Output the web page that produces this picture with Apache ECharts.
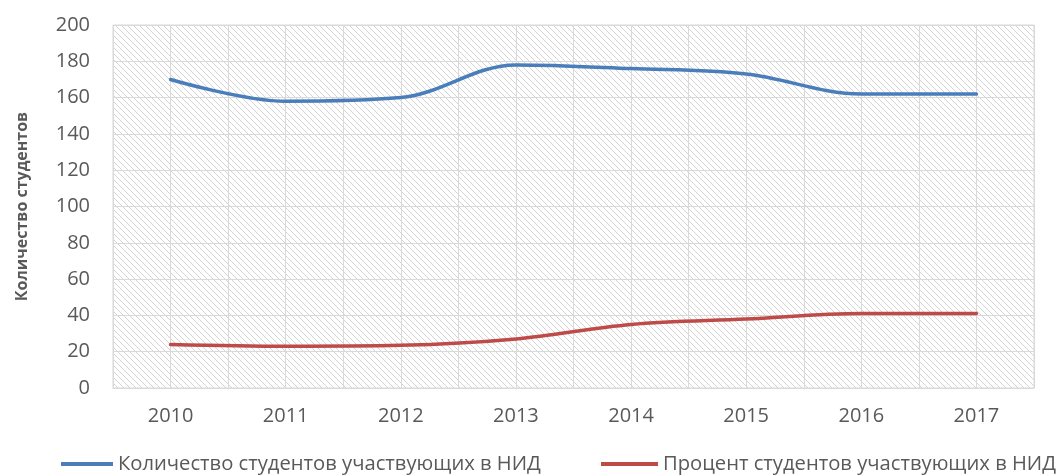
<!DOCTYPE html>
<html>
<head>
<meta charset="utf-8">
<script src="https://cdn.jsdelivr.net/npm/echarts@6/dist/echarts.min.js"></script>
<style>
  html, body { margin: 0; padding: 0; background: #fff; }
  #chart { width: 1064px; height: 475px; }
</style>
</head>
<body>
<div id="chart"></div>
<script>
var years = ['2010', '2011', '2012', '2013', '2014', '2015', '2016', '2017'];
var countStudents = [170, 158, 160, 178, 176, 173, 162, 162];
var percentStudents = [24, 23, 23.5, 27, 35, 38, 41, 41];
var seriesNames = ['Количество студентов участвующих в НИД', 'Процент студентов участвующих в НИД'];
var colors = ['#4a7ebb', '#be4b48'];

// hatch pattern for the plot background
var tile = document.createElement('canvas');
tile.width = 6;
tile.height = 6;
var ctx = tile.getContext('2d');
ctx.fillStyle = '#ffffff';
ctx.fillRect(0, 0, 6, 6);
ctx.strokeStyle = '#d4d4d4';
ctx.lineWidth = 1;
ctx.beginPath();
ctx.moveTo(-1, -1); ctx.lineTo(7, 7);
ctx.moveTo(-4, 2); ctx.lineTo(4, 10);
ctx.moveTo(2, -4); ctx.lineTo(10, 4);
ctx.stroke();

var myChart = echarts.init(document.getElementById('chart'));
var font = '"Open Sans", "Liberation Sans", sans-serif';

var series = [];
[countStudents, percentStudents].forEach(function (vals, i) {
    series.push({
        name: seriesNames[i],
        type: 'line',
        smooth: 0.35,
        showSymbol: false,
        symbol: 'none',
        lineStyle: { width: 3.5, color: colors[i], cap: 'round' },
        itemStyle: { color: colors[i] },
        data: vals.map(function (v, k) { return [k, v]; })
    });
});

var legendText = { color: '#595959', fontSize: 20.2, fontFamily: font };

var option = {
    animation: false,
    textStyle: { fontFamily: font },
    grid: {
        left: 113, right: 30, top: 25, bottom: 87,
        outerBoundsMode: 'none',
        containLabel: false,
        show: true,
        backgroundColor: { image: tile, repeat: 'repeat' },
        borderColor: '#d9d9d9',
        borderWidth: 1
    },
    legend: [{
        data: [seriesNames[0]],
        left: 56, top: 449,
        itemWidth: 52, itemHeight: 4,
        icon: 'rect',
        textStyle: legendText
    }, {
        data: [seriesNames[1]],
        left: 596, top: 449,
        itemWidth: 57, itemHeight: 4,
        icon: 'rect',
        textStyle: legendText
    }],
    xAxis: {
        type: 'value',
        min: -0.5, max: 7.5, interval: 0.5,
        axisLine: { show: true, lineStyle: { color: '#d9d9d9', width: 1 } },
        axisTick: { show: false },
        splitLine: { show: true, lineStyle: { color: '#d9d9d9', width: 1 } },
        axisLabel: {
            color: '#595959', fontSize: 20, margin: 18,
            showMinLabel: true, showMaxLabel: true,
            formatter: function (v) {
                return Number.isInteger(v) && years[v] ? years[v] : '';
            }
        }
    },
    yAxis: {
        type: 'value',
        min: 0, max: 200, interval: 20,
        name: 'Количество студентов',
        nameLocation: 'middle',
        nameGap: 83,
        nameTextStyle: { color: '#595959', fontSize: 16, fontWeight: 'bold', fontFamily: font },
        axisLine: { show: false },
        axisTick: { show: false },
        splitLine: { show: true, lineStyle: { color: '#d9d9d9', width: 1 } },
        axisLabel: { color: '#595959', fontSize: 20, margin: 23 }
    },
    series: series
};

myChart.setOption(option);
</script>
</body>
</html>
